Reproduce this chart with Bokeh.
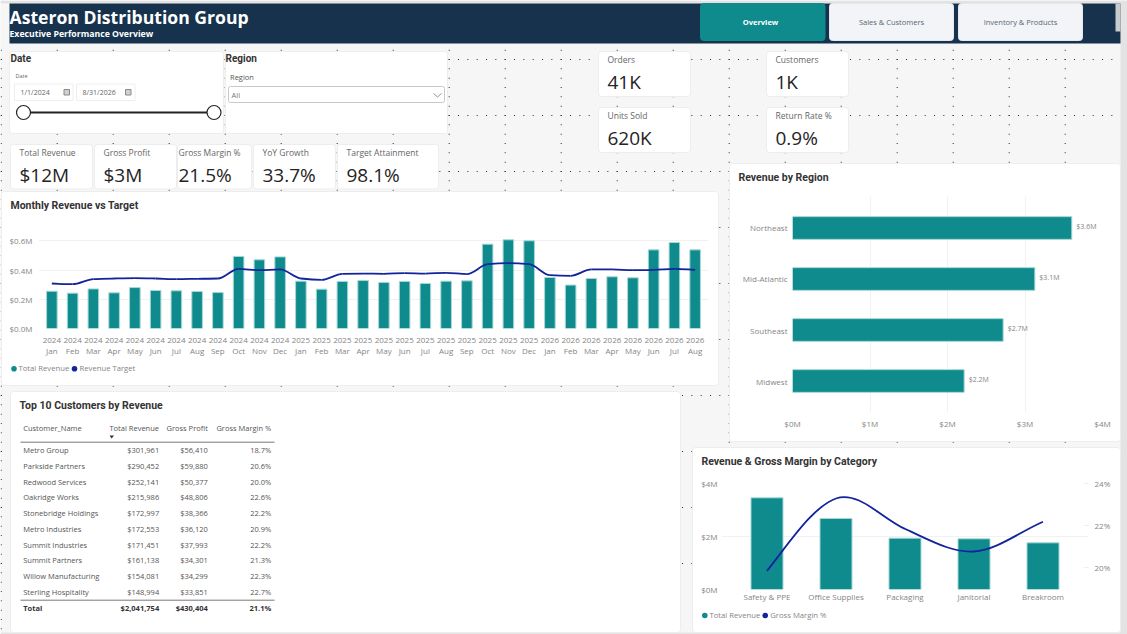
from bokeh.core.properties import value
from bokeh.embed import file_html
from bokeh.resources import INLINE
from bokeh.layouts import column
from bokeh.models import (FactorRange, Range1d, FixedTicker, PrintfTickFormatter,
                          LinearAxis)
from bokeh.plotting import figure

# ---------- data ----------
months = ["Jan","Feb","Mar","Apr","May","Jun","Jul","Aug","Sep","Oct","Nov","Dec",
          "Jan","Feb","Mar","Apr","May","Jun","Jul","Aug","Sep","Oct","Nov","Dec",
          "Jan","Feb","Mar","Apr","May","Jun","Jul","Aug"]
years = [2024]*12 + [2025]*12 + [2026]*8
monthly_revenue = [.255,.242,.271,.244,.280,.260,.258,.253,.246,.493,.470,.490,
                   .324,.269,.322,.328,.315,.322,.308,.324,.326,.577,.607,.600,
                   .349,.297,.342,.354,.347,.538,.588,.538]
monthly_target = [.308,.303,.338,.342,.344,.342,.338,.340,.342,.408,.399,.404,
                  .342,.333,.374,.376,.374,.379,.376,.381,.372,.440,.447,.440,
                  .365,.360,.404,.404,.399,.401,.408,.401]

regions = ["Northeast","Mid-Atlantic","Southeast","Midwest"]
region_revenue = [3.604,3.127,2.718,2.215]

categories = ["Safety & PPE","Office Supplies","Packaging","Janitorial","Breakroom"]
category_revenue = [3.459,2.68,1.937,1.912,1.761]
category_margin = [19.86,23.29,21.85,20.78,22.19]

customers = ["Metro Group","Parkside Partners","Redwood Services","Oakridge Works",
             "Stonebridge Holdings","Metro Industries","Summit Industries",
             "Summit Partners","Willow Manufacturing","Sterling Hospitality"]
cust_revenue = [301961,290452,252141,215986,172997,172553,171451,161138,154081,148994]
cust_profit = [56410,59880,50377,48806,38366,36120,37993,34301,34299,33851]
cust_margin = [18.7,20.6,20.0,22.6,22.2,20.9,22.2,21.3,22.3,22.7]
total_row = ["Total","$2,041,754","$430,404","21.1%"]

kpi_labels = ["Total Revenue","Gross Profit","Gross Margin %","YoY Growth","Target Attainment"]
kpi_values = ["$12M","$3M","21.5%","33.7%","98.1%"]
side_labels = ["Orders","Customers","Units Sold","Return Rate %"]
side_values = ["41K","1K","620K","0.9%"]
nav_labels = ["Overview","Sales & Customers","Inventory & Products"]

# ---------- style ----------
TEAL = "#0F8B8D"; EDGE = "#A5D8D6"; NAVY = "#12239E"; HEAD = "#17324D"
GRID = "#F1F1F1"; TICK = "#858585"; BODY = "Open Sans"; TITLE = "Roboto"; DARK = "#252423"

base = figure(width=1127, height=634, x_range=Range1d(0,1127), y_range=Range1d(634,0),
              output_backend="svg", toolbar_location=None, min_border=0,
              margin=(0,0,0,0), outline_line_color=None, frame_align=False,
              background_fill_color="#F6F6F6", border_fill_color="#F6F6F6")
base.axis.visible = False
base.grid.visible = False

def card(l, t, r, b, fill="white", line="#EDEDED", radius=3):
    base.quad(left=[l], right=[r], top=[t], bottom=[b], fill_color=fill, line_color=line,
              line_width=1, border_radius=radius)

def put(x, y, s, size, color=DARK, font=BODY, bold=False, align="left"):
    xs = x if isinstance(x, list) else [x]
    ys = y if isinstance(y, list) else [y]*len(xs)
    ss = s if isinstance(s, list) else [s]
    base.text(x=xs, y=[v-1 for v in ys], text=ss, text_font=value(font), text_font_size=f"{size}px",
              text_color=color, text_font_style="bold" if bold else "normal", text_align=align,
              text_baseline="middle")

# outer strips
base.quad(left=[0],right=[1127],top=[0],bottom=[3],fill_color="#E3E3E3",line_color=None)
base.quad(left=[1120],right=[1127],top=[0],bottom=[634],fill_color="#E3E3E3",line_color=None)
base.quad(left=[0],right=[1127],top=[632],bottom=[634],fill_color="#E3E3E3",line_color=None)

# canvas dots
step = 56/6
dx, dy = [], []
for c in range(20):
    for k in range(68):
        dx.append(0.7+56*c); dy.append(3+step*k)
for r in range(11):
    for k in range(120):
        dx.append(0.7+step*k); dy.append(3+56*r)
keep = [(a,b) for a,b in zip(dx,dy) if a < 1120 and 44 < b < 632]
base.quad(left=[a-.5 for a,b in keep], right=[a+.5 for a,b in keep],
          top=[b-.5 for a,b in keep], bottom=[b+.5 for a,b in keep],
          fill_color="#2A2A2A", line_color=None)

# header
base.quad(left=[9],right=[1120],top=[3],bottom=[43],fill_color=HEAD,line_color=None)
base.quad(left=[1115],right=[1120],top=[3],bottom=[31],fill_color="#C9CCCF",line_color=None)
put(9, 17.5, "Asteron Distribution Group", 17.6, "white", BODY, True)
put(9, 34.5, "Executive Performance Overview", 8.7, "white", BODY, True)
card(700,3,824.5,40,fill=TEAL,line=TEAL)
card(829,3,953,40,fill="#F2F4F7",line="#E6E8EB")
card(958,3,1082,40,fill="#F2F4F7",line="#E6E8EB")
put(760, 22.5, nav_labels[0], 7.5, "white", BODY, True, "center")
put(891, 22.5, nav_labels[1], 7.5, "#5A6675", BODY, False, "center")
put(1020, 22.5, nav_labels[2], 7.5, "#5A6675", BODY, False, "center")

# slicers
card(9,51,223,133); card(225,51,447,133)
put(10, 58.5, "Date", 10, "#333333", TITLE, True)
put(225, 58.5, "Region", 10, "#333333", TITLE, True)
put(15, 76.5, "Date", 5.5, "#666666")
card(14,83.5,72.5,100,line="#EEEEEE",radius=0); card(76,83.5,134.5,100,line="#EEEEEE",radius=0)
put(20, 93, "1/1/2024", 7, "#666666"); put(82, 93, "8/31/2026", 7, "#666666")
base.quad(left=[63.5,125],right=[69,130.5],top=[89,89],bottom=[94.5,94.5],fill_color="#D0D0D0",line_color="#8A8A8A")
base.line(x=[24,213],y=[112,112],line_color=DARK,line_width=2)
base.circle(x=[23,213.5],y=[112,112],radius=7,fill_color="white",line_color=DARK,line_width=1.2)
put(229.5, 77.5, "Region", 7.5, "#555555")
card(228,86,444,102,line="#C8C8C8",radius=2)
put(231, 95.5, "All", 7.5, "#777777")
base.line(x=[433,437,441],y=[93,96.5,93],line_color="#777777",line_width=.8)

# KPI cards
kpi_box = [(10,92),(94,176),(177,251),(253,335),(337,438)]
kpi_tx = [19,103,178,262,346]
for (l,r),tx,lab,val in zip(kpi_box,kpi_tx,kpi_labels,kpi_values):
    card(l,144,r,188.5)
    put(tx, 152.5, lab, 8.5, "#666666")
    put(tx, 175.5, val, 19, DARK)
side_pos = [(598,690,51,96,607),(766,848,51,96,775),(598,690,107,152,607),(766,848,107,152,775)]
for (l,r,t,b,tx),lab,val in zip(side_pos,side_labels,side_values):
    card(l,t,r,b)
    put(tx, t+8.5, lab, 8.5, "#666666")
    put(tx, t+31, val, 19, DARK)

# chart cards
card(1,191,718,385); card(10,391,680,632); card(729,163,1120,441); card(692,447,1120,632)
put(10, 205.5, "Monthly Revenue vs Target", 10.5, "#333333", TITLE, True)
put(19, 405.7, "Top 10 Customers by Revenue", 10.5, "#333333", TITLE, True)
put(738, 177.5, "Revenue by Region", 10.5, "#333333", TITLE, True)
put(701, 461.5, "Revenue & Gross Margin by Category", 10.5, "#333333", TITLE, True)

# legends
base.circle(x=[13.5,74],y=[368.3,368.3],radius=2.8,fill_color=[TEAL,NAVY],line_color=None)
put(18, 368.8, "Total Revenue", 7.7, TICK); put(79, 368.8, "Revenue Target", 7.7, TICK)
base.circle(x=[704.3,764.7],y=[615,615],radius=2.8,fill_color=[TEAL,NAVY],line_color=None)
put(709, 615.5, "Total Revenue", 7.7, TICK); put(769.7, 615.5, "Gross Margin %", 7.7, TICK)

# table
row_y = [450.8,466.8,482.8,497.8,513.8,529.8,545.8,560.8,576.8,592.8]
put(22.7, 428.5, "Customer_Name", 7.5, "#555555")
put(158.5, 428.5, "Total Revenue", 7.5, "#555555", align="right")
put(207.3, 428.5, "Gross Profit", 7.5, "#555555", align="right")
put(270.7, 428.5, "Gross Margin %", 7.5, "#555555", align="right")
base.patch(x=[109,113.5,111.2],y=[435,435,438],fill_color="#333333",line_color=None)
base.line(x=[20,274],y=[441.7,441.7],line_color="#777777",line_width=1)
base.line(x=[20,274],y=[599.7,599.7],line_color="#777777",line_width=1)
put([22.7]*10, row_y, customers, 7.5, "#555555")
put([158.7]*10, row_y, [f"${v:,}" for v in cust_revenue], 7.5, "#555555", align="right")
put([207.3]*10, row_y, [f"${v:,}" for v in cust_profit], 7.5, "#555555", align="right")
put([270.7]*10, row_y, [f"{v:.1f}%" for v in cust_margin], 7.5, "#555555", align="right")
put(22.7, 608.8, total_row[0], 7.5, "#333333", bold=True)
put(158.7, 608.8, total_row[1], 7.5, "#333333", bold=True, align="right")
put(207.3, 608.8, total_row[2], 7.5, "#333333", bold=True, align="right")
put(270.7, 608.8, total_row[3], 7.5, "#333333", bold=True, align="right")

# ---------- helpers for smooth lines (Bezier glyph on the data scale) ----------
def tangents_monotone(y):
    n = len(y); d = [y[i+1]-y[i] for i in range(n-1)]
    m = [0.0]*n; m[0] = d[0]; m[-1] = d[-1]
    for i in range(1, n-1):
        m[i] = 0.0 if d[i-1]*d[i] <= 0 else 2*d[i-1]*d[i]/(d[i-1]+d[i])
    return m

def tangents_cardinal(y, k=1.15):
    n = len(y); m = [0.0]*n
    for i in range(1, n-1):
        m[i] = k*(y[i+1]-y[i-1])/2
    m[0] = (y[1]-y[0])*1.2; m[-1] = (y[-1]-y[-2])*1.0
    return m

def smooth(p, y, m, **kw):
    n = len(y)
    xs = [i+.5 for i in range(n)]
    p.bezier(x0=xs[:-1], y0=y[:-1], x1=xs[1:], y1=y[1:],
             cx0=[x+1/3 for x in xs[:-1]], cy0=[y[i]+m[i]/3 for i in range(n-1)],
             cx1=[x-1/3 for x in xs[1:]], cy1=[y[i+1]-m[i+1]/3 for i in range(n-1)],
             line_color=NAVY, **kw)

def style(p):
    p.axis.axis_line_color = None
    p.axis.major_tick_line_color = None
    p.axis.minor_tick_line_color = None
    p.axis.major_tick_in = 0
    p.axis.major_tick_out = 0
    p.axis.minor_tick_in = 0
    p.axis.minor_tick_out = 0
    p.axis.major_label_text_font = BODY
    p.axis.major_label_text_font_size = "8px"
    p.axis.major_label_text_color = TICK
    p.grid.grid_line_color = GRID
    p.outline_line_color = None

common = dict(output_backend="svg", toolbar_location=None, background_fill_alpha=0,
              border_fill_alpha=0, frame_align=False)
cursor = 634

def place(l, t, h):
    global cursor
    m = (t-cursor, 0, 0, l)
    cursor = t+h
    return m

# ---------- monthly ----------
month_f = [f"{y}\n{m}" for y,m in zip(years,months)]
h1 = 5+95+40
p1 = figure(width=718, height=h1, x_range=FactorRange(factors=month_f, range_padding=.009),
            y_range=Range1d(0,.65), min_border_left=38, min_border_right=10, min_border_top=5,
            min_border_bottom=40, margin=place(0,228,h1), **common)
p1.vbar(x=month_f, top=monthly_revenue, width=.51, fill_color=TEAL, line_color=EDGE, line_width=1)
smooth(p1, monthly_target, tangents_monotone(monthly_target), line_width=1.8)
style(p1)
p1.xaxis.major_label_standoff = 5
p1.xaxis.major_label_text_line_height = 1.05
p1.xgrid.visible = False
p1.yaxis.ticker = FixedTicker(ticks=[0,.2,.4,.6])
p1.yaxis.formatter = PrintfTickFormatter(format="$%.1fM")
p1.yaxis.major_label_standoff = 6

# ---------- region ----------
h2 = 6+216+29
p2 = figure(width=391, height=h2, x_range=Range1d(0,4),
            y_range=FactorRange(factors=regions[::-1], range_padding=.0588),
            min_border_left=63, min_border_right=18, min_border_top=6, min_border_bottom=29,
            margin=place(729,190,h2), **common)
p2.hbar(y=regions, right=region_revenue, height=.445, fill_color=TEAL, line_color=EDGE, line_width=1)
p2.text(x=region_revenue, y=regions, text=[f"${v:.1f}M" for v in region_revenue], x_offset=4.5, y_offset=-1.5,
        text_font=value(BODY), text_font_size="7px", text_color=TICK, text_baseline="middle")
style(p2)
p2.ygrid.visible = False
p2.xaxis.ticker = FixedTicker(ticks=[0,1,2,3,4])
p2.xaxis.formatter = PrintfTickFormatter(format="$%dM")
p2.xaxis.major_label_standoff = 5
p2.yaxis.major_label_standoff = 5

# ---------- category ----------
h3 = 8+106+22
p3 = figure(width=428, height=h3, x_range=FactorRange(factors=categories, range_padding=.0638),
            y_range=Range1d(0,4), min_border_left=29, min_border_right=32, min_border_top=8,
            min_border_bottom=22, margin=place(692,475,h3), **common)
p3.extra_y_ranges = {"margin": Range1d(18.98,24.0)}
p3.vbar(x=categories, top=category_revenue, width=.464, fill_color=TEAL, line_color=EDGE, line_width=1)
smooth(p3, category_margin, tangents_cardinal(category_margin), line_width=1.8, y_range_name="margin")
right = LinearAxis(y_range_name="margin", ticker=FixedTicker(ticks=[20,22,24]),
                   formatter=PrintfTickFormatter(format="%d%%"))
p3.add_layout(right, "right")
style(p3)
p3.xgrid.visible = False
p3.yaxis[0].ticker = FixedTicker(ticks=[0,2,4])
p3.yaxis[0].formatter = PrintfTickFormatter(format="$%dM")
p3.yaxis[0].major_label_standoff = 4
right.major_label_standoff = 6
right.major_tick_in = 4; right.major_tick_out = 0; right.major_tick_line_color = "#EDEDED"
p3.xaxis.major_label_standoff = 1

root = column(base, p1, p2, p3, spacing=0)
open("out.html", "w").write(file_html(root, INLINE))
